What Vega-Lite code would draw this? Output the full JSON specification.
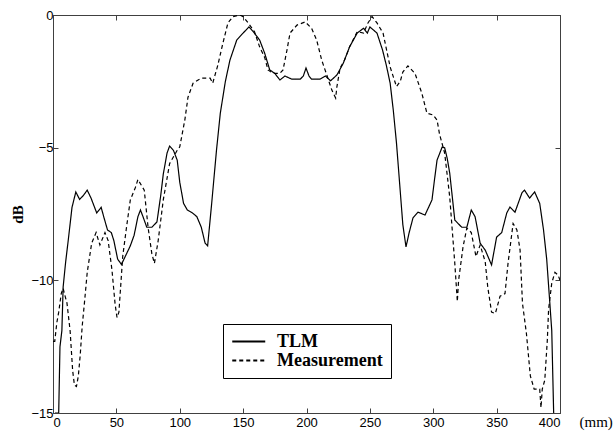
{
  "$schema": "https://vega.github.io/schema/vega-lite/v6.json",
  "width": 507,
  "height": 398,
  "autosize": {"type": "none"},
  "padding": {"left": 53, "top": 15, "right": 53, "bottom": 21},
  "background": "white",
  "config": {
    "view": {"stroke": "#404040", "strokeWidth": 1},
    "axis": {
      "grid": false,
      "domainColor": "#404040",
      "tickColor": "#404040",
      "labelFont": "Liberation Sans",
      "labelFontSize": 13,
      "labelColor": "#000000",
      "tickSize": -5
    }
  },
  "data": {
    "values": [
      {"s": "TLM", "x": 1.5, "db": -15}, {"s": "TLM", "x": 4.5, "db": -15}, {"s": "TLM", "x": 5.5, "db": -12.5}, {"s": "TLM", "x": 7, "db": -11.9}, {"s": "TLM", "x": 8, "db": -10.25}, {"s": "TLM", "x": 10, "db": -9.3}, {"s": "TLM", "x": 12, "db": -8.5}, {"s": "TLM", "x": 15, "db": -7.25}, {"s": "TLM", "x": 18, "db": -6.67}, {"s": "TLM", "x": 21, "db": -6.95}, {"s": "TLM", "x": 24, "db": -6.8}, {"s": "TLM", "x": 27, "db": -6.6}, {"s": "TLM", "x": 30, "db": -6.9}, {"s": "TLM", "x": 34.5, "db": -7.46}, {"s": "TLM", "x": 38, "db": -7.25}, {"s": "TLM", "x": 40, "db": -7.6}, {"s": "TLM", "x": 43, "db": -8.1}, {"s": "TLM", "x": 46, "db": -8.2}, {"s": "TLM", "x": 48, "db": -8.5}, {"s": "TLM", "x": 51, "db": -9.2}, {"s": "TLM", "x": 54, "db": -9.4}, {"s": "TLM", "x": 57, "db": -9.1}, {"s": "TLM", "x": 61, "db": -8.7}, {"s": "TLM", "x": 64, "db": -8.3}, {"s": "TLM", "x": 67, "db": -7.6}, {"s": "TLM", "x": 69, "db": -7.35}, {"s": "TLM", "x": 71, "db": -7.6}, {"s": "TLM", "x": 74, "db": -8.0}, {"s": "TLM", "x": 78, "db": -8.0}, {"s": "TLM", "x": 82, "db": -7.8}, {"s": "TLM", "x": 85, "db": -6.8}, {"s": "TLM", "x": 87, "db": -6.0}, {"s": "TLM", "x": 90, "db": -5.2}, {"s": "TLM", "x": 92, "db": -4.94}, {"s": "TLM", "x": 95, "db": -5.1}, {"s": "TLM", "x": 98, "db": -5.47}, {"s": "TLM", "x": 100, "db": -6.3}, {"s": "TLM", "x": 103, "db": -7.1}, {"s": "TLM", "x": 106, "db": -7.35}, {"s": "TLM", "x": 110, "db": -7.46}, {"s": "TLM", "x": 113.5, "db": -7.6}, {"s": "TLM", "x": 117, "db": -8.0}, {"s": "TLM", "x": 120, "db": -8.6}, {"s": "TLM", "x": 122, "db": -8.7}, {"s": "TLM", "x": 125, "db": -7.2}, {"s": "TLM", "x": 129, "db": -5.09}, {"s": "TLM", "x": 132, "db": -3.7}, {"s": "TLM", "x": 136, "db": -2.5}, {"s": "TLM", "x": 139.6, "db": -1.7}, {"s": "TLM", "x": 145, "db": -0.94}, {"s": "TLM", "x": 150, "db": -0.68}, {"s": "TLM", "x": 154.6, "db": -0.45}, {"s": "TLM", "x": 158, "db": -0.63}, {"s": "TLM", "x": 163, "db": -0.94}, {"s": "TLM", "x": 167, "db": -1.44}, {"s": "TLM", "x": 171, "db": -2.07}, {"s": "TLM", "x": 175, "db": -2.2}, {"s": "TLM", "x": 179, "db": -2.45}, {"s": "TLM", "x": 183, "db": -2.3}, {"s": "TLM", "x": 188.5, "db": -2.42}, {"s": "TLM", "x": 195, "db": -2.42}, {"s": "TLM", "x": 197.5, "db": -2.3}, {"s": "TLM", "x": 199.6, "db": -2.0}, {"s": "TLM", "x": 202, "db": -2.3}, {"s": "TLM", "x": 204, "db": -2.42}, {"s": "TLM", "x": 210.6, "db": -2.42}, {"s": "TLM", "x": 215, "db": -2.3}, {"s": "TLM", "x": 219, "db": -2.48}, {"s": "TLM", "x": 224, "db": -2.26}, {"s": "TLM", "x": 229, "db": -1.82}, {"s": "TLM", "x": 234, "db": -1.2}, {"s": "TLM", "x": 240, "db": -0.68}, {"s": "TLM", "x": 245, "db": -0.5}, {"s": "TLM", "x": 248, "db": -0.68}, {"s": "TLM", "x": 250, "db": -0.45}, {"s": "TLM", "x": 255.6, "db": -0.68}, {"s": "TLM", "x": 260, "db": -1.32}, {"s": "TLM", "x": 263, "db": -1.9}, {"s": "TLM", "x": 266, "db": -2.57}, {"s": "TLM", "x": 268.5, "db": -3.6}, {"s": "TLM", "x": 271, "db": -4.83}, {"s": "TLM", "x": 274, "db": -6.67}, {"s": "TLM", "x": 276, "db": -7.9}, {"s": "TLM", "x": 278.5, "db": -8.74}, {"s": "TLM", "x": 281, "db": -8.2}, {"s": "TLM", "x": 284, "db": -7.65}, {"s": "TLM", "x": 288, "db": -7.43}, {"s": "TLM", "x": 293.5, "db": -7.54}, {"s": "TLM", "x": 299, "db": -6.97}, {"s": "TLM", "x": 301, "db": -6.2}, {"s": "TLM", "x": 303, "db": -5.47}, {"s": "TLM", "x": 307, "db": -4.98}, {"s": "TLM", "x": 309, "db": -5.0}, {"s": "TLM", "x": 311, "db": -5.4}, {"s": "TLM", "x": 313, "db": -5.96}, {"s": "TLM", "x": 317, "db": -7.73}, {"s": "TLM", "x": 322.5, "db": -8.0}, {"s": "TLM", "x": 326.5, "db": -8.0}, {"s": "TLM", "x": 330, "db": -7.35}, {"s": "TLM", "x": 333, "db": -7.6}, {"s": "TLM", "x": 337, "db": -8.6}, {"s": "TLM", "x": 341, "db": -8.86}, {"s": "TLM", "x": 346, "db": -9.42}, {"s": "TLM", "x": 350, "db": -8.37}, {"s": "TLM", "x": 354, "db": -8.2}, {"s": "TLM", "x": 358, "db": -7.46}, {"s": "TLM", "x": 360.5, "db": -7.24}, {"s": "TLM", "x": 364.5, "db": -7.43}, {"s": "TLM", "x": 370, "db": -6.7}, {"s": "TLM", "x": 372, "db": -6.6}, {"s": "TLM", "x": 376, "db": -6.9}, {"s": "TLM", "x": 380, "db": -6.67}, {"s": "TLM", "x": 384, "db": -7.1}, {"s": "TLM", "x": 387, "db": -8.1}, {"s": "TLM", "x": 389.5, "db": -9.2}, {"s": "TLM", "x": 392, "db": -10.87}, {"s": "TLM", "x": 393.5, "db": -11.9}, {"s": "TLM", "x": 395, "db": -15},
      {"s": "Measurement", "x": 0, "db": -12.3}, {"s": "Measurement", "x": 1.4, "db": -12.3}, {"s": "Measurement", "x": 3, "db": -11.6}, {"s": "Measurement", "x": 4.5, "db": -11.2}, {"s": "Measurement", "x": 6.5, "db": -10.5}, {"s": "Measurement", "x": 8, "db": -10.3}, {"s": "Measurement", "x": 9, "db": -10.5}, {"s": "Measurement", "x": 11, "db": -10.85}, {"s": "Measurement", "x": 13.5, "db": -11.9}, {"s": "Measurement", "x": 15.5, "db": -13.4}, {"s": "Measurement", "x": 16.9, "db": -13.95}, {"s": "Measurement", "x": 18.5, "db": -14.0}, {"s": "Measurement", "x": 20, "db": -13.6}, {"s": "Measurement", "x": 21.5, "db": -12.8}, {"s": "Measurement", "x": 23, "db": -11.75}, {"s": "Measurement", "x": 25, "db": -10.75}, {"s": "Measurement", "x": 27, "db": -9.7}, {"s": "Measurement", "x": 30.5, "db": -8.6}, {"s": "Measurement", "x": 34, "db": -8.2}, {"s": "Measurement", "x": 37, "db": -8.67}, {"s": "Measurement", "x": 41, "db": -8.2}, {"s": "Measurement", "x": 43.5, "db": -8.5}, {"s": "Measurement", "x": 46.5, "db": -9.6}, {"s": "Measurement", "x": 49, "db": -10.9}, {"s": "Measurement", "x": 50.5, "db": -11.4}, {"s": "Measurement", "x": 52, "db": -11.2}, {"s": "Measurement", "x": 55, "db": -9.1}, {"s": "Measurement", "x": 58, "db": -8.0}, {"s": "Measurement", "x": 61, "db": -6.97}, {"s": "Measurement", "x": 65, "db": -6.5}, {"s": "Measurement", "x": 67, "db": -6.2}, {"s": "Measurement", "x": 72, "db": -6.6}, {"s": "Measurement", "x": 75, "db": -8.0}, {"s": "Measurement", "x": 78, "db": -9.0}, {"s": "Measurement", "x": 80, "db": -9.36}, {"s": "Measurement", "x": 83, "db": -8.5}, {"s": "Measurement", "x": 87, "db": -6.97}, {"s": "Measurement", "x": 92, "db": -5.6}, {"s": "Measurement", "x": 98, "db": -5.1}, {"s": "Measurement", "x": 100, "db": -4.97}, {"s": "Measurement", "x": 104, "db": -3.96}, {"s": "Measurement", "x": 106.5, "db": -3.1}, {"s": "Measurement", "x": 110.5, "db": -2.57}, {"s": "Measurement", "x": 114.5, "db": -2.45}, {"s": "Measurement", "x": 117.5, "db": -2.38}, {"s": "Measurement", "x": 124, "db": -2.38}, {"s": "Measurement", "x": 126, "db": -2.57}, {"s": "Measurement", "x": 130, "db": -1.9}, {"s": "Measurement", "x": 134, "db": -1.07}, {"s": "Measurement", "x": 138, "db": -0.3}, {"s": "Measurement", "x": 142, "db": -0.06}, {"s": "Measurement", "x": 147.5, "db": 0}, {"s": "Measurement", "x": 150, "db": -0.06}, {"s": "Measurement", "x": 154, "db": -0.3}, {"s": "Measurement", "x": 159, "db": -0.63}, {"s": "Measurement", "x": 163, "db": -1.2}, {"s": "Measurement", "x": 167, "db": -1.6}, {"s": "Measurement", "x": 169.6, "db": -2.07}, {"s": "Measurement", "x": 173.6, "db": -2.2}, {"s": "Measurement", "x": 179, "db": -2.2}, {"s": "Measurement", "x": 181.5, "db": -2.07}, {"s": "Measurement", "x": 184.6, "db": -1.32}, {"s": "Measurement", "x": 187, "db": -0.68}, {"s": "Measurement", "x": 192.5, "db": -0.38}, {"s": "Measurement", "x": 199, "db": -0.26}, {"s": "Measurement", "x": 204, "db": -0.5}, {"s": "Measurement", "x": 208, "db": -0.94}, {"s": "Measurement", "x": 212, "db": -1.7}, {"s": "Measurement", "x": 216, "db": -2.26}, {"s": "Measurement", "x": 220, "db": -2.83}, {"s": "Measurement", "x": 223, "db": -3.13}, {"s": "Measurement", "x": 224, "db": -2.7}, {"s": "Measurement", "x": 226.5, "db": -2.0}, {"s": "Measurement", "x": 230, "db": -1.7}, {"s": "Measurement", "x": 234, "db": -1.2}, {"s": "Measurement", "x": 240, "db": -0.63}, {"s": "Measurement", "x": 245, "db": -0.68}, {"s": "Measurement", "x": 248.5, "db": -0.3}, {"s": "Measurement", "x": 251.7, "db": -0.06}, {"s": "Measurement", "x": 255.6, "db": -0.3}, {"s": "Measurement", "x": 260.4, "db": -0.68}, {"s": "Measurement", "x": 266, "db": -1.96}, {"s": "Measurement", "x": 271, "db": -2.7}, {"s": "Measurement", "x": 274, "db": -2.5}, {"s": "Measurement", "x": 276, "db": -2.15}, {"s": "Measurement", "x": 280, "db": -1.92}, {"s": "Measurement", "x": 285.6, "db": -2.2}, {"s": "Measurement", "x": 291, "db": -2.95}, {"s": "Measurement", "x": 295, "db": -3.7}, {"s": "Measurement", "x": 300, "db": -3.77}, {"s": "Measurement", "x": 303, "db": -3.96}, {"s": "Measurement", "x": 305, "db": -4.5}, {"s": "Measurement", "x": 309, "db": -5.2}, {"s": "Measurement", "x": 313, "db": -6.86}, {"s": "Measurement", "x": 317, "db": -9.36}, {"s": "Measurement", "x": 319, "db": -10.8}, {"s": "Measurement", "x": 320, "db": -10.0}, {"s": "Measurement", "x": 323.5, "db": -8.74}, {"s": "Measurement", "x": 326.5, "db": -8.03}, {"s": "Measurement", "x": 330, "db": -8.2}, {"s": "Measurement", "x": 333.7, "db": -9.1}, {"s": "Measurement", "x": 337, "db": -8.67}, {"s": "Measurement", "x": 341, "db": -9.3}, {"s": "Measurement", "x": 343, "db": -10.25}, {"s": "Measurement", "x": 346, "db": -11.2}, {"s": "Measurement", "x": 349, "db": -11.25}, {"s": "Measurement", "x": 352.7, "db": -10.6}, {"s": "Measurement", "x": 356.6, "db": -10.5}, {"s": "Measurement", "x": 359, "db": -9.36}, {"s": "Measurement", "x": 363, "db": -7.86}, {"s": "Measurement", "x": 366, "db": -8.1}, {"s": "Measurement", "x": 368.5, "db": -8.86}, {"s": "Measurement", "x": 370.4, "db": -10.87}, {"s": "Measurement", "x": 373.5, "db": -12}, {"s": "Measurement", "x": 376.6, "db": -13.6}, {"s": "Measurement", "x": 379.6, "db": -14.1}, {"s": "Measurement", "x": 384, "db": -14.1}, {"s": "Measurement", "x": 385, "db": -14.8}, {"s": "Measurement", "x": 386, "db": -14.1}, {"s": "Measurement", "x": 388, "db": -13.76}, {"s": "Measurement", "x": 390, "db": -12.25}, {"s": "Measurement", "x": 391, "db": -11.1}, {"s": "Measurement", "x": 393.5, "db": -10.1}, {"s": "Measurement", "x": 396, "db": -9.7}, {"s": "Measurement", "x": 398.5, "db": -9.8}, {"s": "Measurement", "x": 400, "db": -10.0}
    ]
  },
  "resolve": {"axis": {"x": "independent", "y": "independent"}},
  "layer": [
    {
      "mark": {"type": "line", "color": "#000000", "strokeWidth": 1.2, "clip": true},
      "encoding": {
        "x": {
          "field": "x", "type": "quantitative",
          "scale": {"domain": [0, 400], "nice": false, "zero": false},
          "axis": {
            "values": [0, 50, 100, 150, 200, 250, 300, 350, 400],
            "labelPadding": 8,
            "title": "(mm)",
            "titleFont": "Liberation Serif",
            "titleFontSize": 15,
            "titleFontWeight": "normal",
            "titleColor": "#000000",
            "titleX": 526,
            "titleY": 13,
            "titleAlign": "left",
            "titleBaseline": "alphabetic"
          }
        },
        "y": {
          "field": "db", "type": "quantitative",
          "scale": {"domain": [-15, 0], "nice": false, "zero": false},
          "axis": {
            "values": [0, -5, -10, -15],
            "labelPadding": 5,
            "title": "dB",
            "titleFont": "Liberation Serif",
            "titleFontSize": 15,
            "titleFontWeight": "bold",
            "titleColor": "#000000",
            "titleX": -36,
            "titleY": 199,
            "titleAlign": "center",
            "titleBaseline": "middle"
          }
        },
        "strokeDash": {
          "field": "s", "type": "nominal",
          "scale": {"domain": ["TLM", "Measurement"], "range": [[1, 0], [4, 3]]},
          "legend": {
            "title": null,
            "orient": "none",
            "legendX": 170,
            "legendY": 309,
            "direction": "vertical",
            "strokeColor": "#000000",
            "fillColor": "#ffffff",
            "padding": 8,
            "cornerRadius": 0,
            "symbolType": "M-1,0H3",
            "symbolSize": 272,
            "symbolStrokeWidth": 2,
            "symbolStrokeColor": "#000000",
            "symbolFillColor": "transparent",
            "labelFont": "Liberation Serif",
            "labelFontSize": 18,
            "labelFontWeight": "bold",
            "labelColor": "#000000",
            "labelOffset": 27,
            "rowPadding": 0
          }
        }
      }
    },
    {
      "mark": {"type": "line", "strokeOpacity": 0, "clip": true},
      "encoding": {
        "x": {"field": "x", "type": "quantitative", "axis": {"orient": "top", "values": [0, 50, 100, 150, 200, 250, 300, 350, 400], "labels": false, "title": null}},
        "y": {"field": "db", "type": "quantitative", "axis": {"orient": "right", "values": [0, -5, -10, -15], "labels": false, "title": null}},
        "detail": {"field": "s"}
      }
    }
  ]
}
